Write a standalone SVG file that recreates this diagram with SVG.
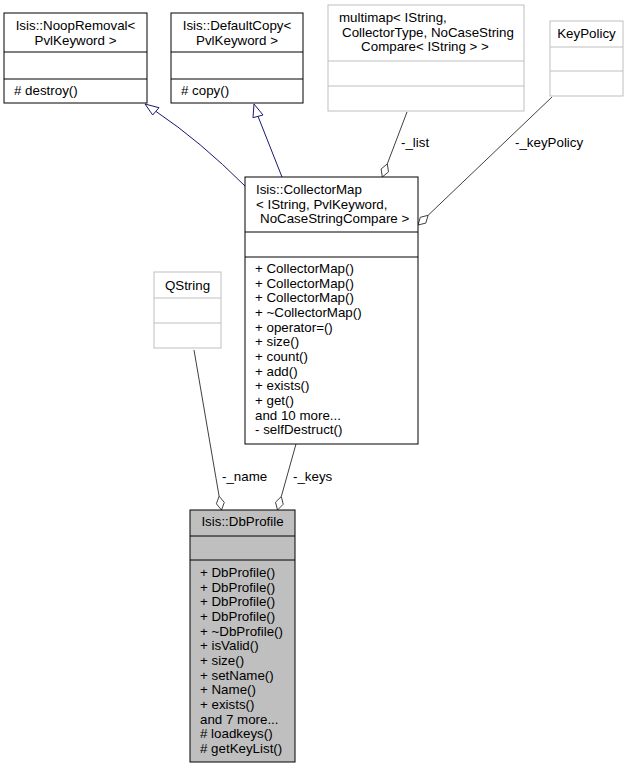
<svg xmlns="http://www.w3.org/2000/svg" width="636" height="768" viewBox="0 0 636 768">
<style>
text{font-family:"Liberation Sans",Arial,Helvetica,sans-serif;font-size:13.33px;fill:#000}
.c{text-anchor:middle}
.box{fill:#fff;stroke:#000;stroke-width:1}
.gbox{fill:#fff;stroke:#bfbfbf;stroke-width:1}
.cur{fill:#bfbfbf;stroke:#000;stroke-width:1}
.sep{stroke:#000;stroke-width:1}
.gsep{stroke:#bfbfbf;stroke-width:1}
.inh{fill:none;stroke:#191970;stroke-width:1}
.inhh{fill:#fff;stroke:#191970;stroke-width:1}
.agg{fill:none;stroke:#404040;stroke-width:1}
.aggh{fill:#fff;stroke:#404040;stroke-width:1}
</style>
<rect width="636" height="768" fill="#fff"/>
<g id="edges">
<path class="inh" d="M245,186 Q200,141 155.8,111.3"/>
<polygon class="inhh" points="145,104 152.7,115 159,107.7"/>
<path class="inh" d="M282,177 L258,116.3"/>
<polygon class="inhh" points="254,104 253,117.7 263,115"/>
<path class="agg" d="M407,112 L387.3,163.9"/>
<polygon class="aggh" points="382.3,177 388.5,171.9 387.3,163.9 381.1,169"/>
<text x="401" y="147">-_list</text>
<path class="agg" d="M552,97 L428.1,215.3"/>
<polygon class="aggh" points="418,225 425.8,223.1 428.1,215.3 420.3,217.3"/>
<text x="515" y="147">-_keyPolicy</text>
<path class="agg" d="M194,350 L219.1,496.2"/>
<polygon class="aggh" points="221.5,510 224.3,502.4 219.1,496.2 216.4,503.8"/>
<text x="222" y="481">-_name</text>
<path class="agg" d="M296,444 L281.3,496.5"/>
<polygon class="aggh" points="277.5,510 283.2,504.3 281.3,496.5 275.5,502.2"/>
<text x="293" y="481">-_keys</text>
</g>
<g id="NoopRemoval">
<rect class="box" x="4" y="13" width="143" height="90"/>
<line class="sep" x1="4" y1="52" x2="147" y2="52"/>
<line class="sep" x1="4" y1="79" x2="147" y2="79"/>
<text class="c" x="75.5" y="30">Isis::NoopRemoval&lt;</text>
<text class="c" x="75.5" y="44.7">PvlKeyword &gt;</text>
<text x="14" y="94.5"># destroy()</text>
</g>
<g id="DefaultCopy">
<rect class="box" x="171" y="13" width="132" height="90"/>
<line class="sep" x1="171" y1="52" x2="303" y2="52"/>
<line class="sep" x1="171" y1="79" x2="303" y2="79"/>
<text class="c" x="237" y="30">Isis::DefaultCopy&lt;</text>
<text class="c" x="237" y="44.7">PvlKeyword &gt;</text>
<text x="181" y="94.5"># copy()</text>
</g>
<g id="multimap">
<rect class="gbox" x="328" y="5" width="196" height="106"/>
<line class="gsep" x1="328" y1="61" x2="524" y2="61"/>
<line class="gsep" x1="328" y1="86" x2="524" y2="86"/>
<text x="339" y="22">multimap&lt; IString,</text>
<text x="342" y="36.7">CollectorType, NoCaseString</text>
<text class="c" x="425" y="51.3">Compare&lt; IString &gt; &gt;</text>
</g>
<g id="KeyPolicy">
<rect class="gbox" x="550" y="21" width="73" height="75"/>
<line class="gsep" x1="550" y1="47" x2="623" y2="47"/>
<line class="gsep" x1="550" y1="71" x2="623" y2="71"/>
<text class="c" x="586.5" y="38">KeyPolicy</text>
</g>
<g id="CollectorMap">
<rect class="box" x="245" y="177" width="173" height="267"/>
<line class="sep" x1="245" y1="232" x2="418" y2="232"/>
<line class="sep" x1="245" y1="257" x2="418" y2="257"/>
<text x="256" y="194">Isis::CollectorMap</text>
<text x="256" y="208.7">&lt; IString, PvlKeyword,</text>
<text x="260" y="223.3">NoCaseStringCompare &gt;</text>
<text x="255" y="273">+ CollectorMap()</text>
<text x="255" y="287.7">+ CollectorMap()</text>
<text x="255" y="302.3">+ CollectorMap()</text>
<text x="255" y="317">+ ~CollectorMap()</text>
<text x="255" y="331.7">+ operator=()</text>
<text x="255" y="346.3">+ size()</text>
<text x="255" y="361">+ count()</text>
<text x="255" y="375.7">+ add()</text>
<text x="255" y="390.3">+ exists()</text>
<text x="255" y="405">+ get()</text>
<text x="255" y="419.7">and 10 more...</text>
<text x="255" y="434.3">- selfDestruct()</text>
</g>
<g id="QString">
<rect class="gbox" x="154" y="272" width="67" height="76"/>
<line class="gsep" x1="154" y1="298" x2="221" y2="298"/>
<line class="gsep" x1="154" y1="323" x2="221" y2="323"/>
<text class="c" x="187.5" y="290">QString</text>
</g>
<g id="DbProfile">
<rect class="cur" x="190" y="510" width="105" height="252"/>
<line class="sep" x1="190" y1="536" x2="295" y2="536"/>
<line class="sep" x1="190" y1="560" x2="295" y2="560"/>
<text class="c" x="242.5" y="526">Isis::DbProfile</text>
<text x="200" y="577">+ DbProfile()</text>
<text x="200" y="591.7">+ DbProfile()</text>
<text x="200" y="606.3">+ DbProfile()</text>
<text x="200" y="621">+ DbProfile()</text>
<text x="200" y="635.7">+ ~DbProfile()</text>
<text x="200" y="650.3">+ isValid()</text>
<text x="200" y="665">+ size()</text>
<text x="200" y="679.7">+ setName()</text>
<text x="200" y="694.3">+ Name()</text>
<text x="200" y="709">+ exists()</text>
<text x="200" y="723.7">and 7 more...</text>
<text x="200" y="738.3"># loadkeys()</text>
<text x="200" y="753"># getKeyList()</text>
</g>
</svg>
